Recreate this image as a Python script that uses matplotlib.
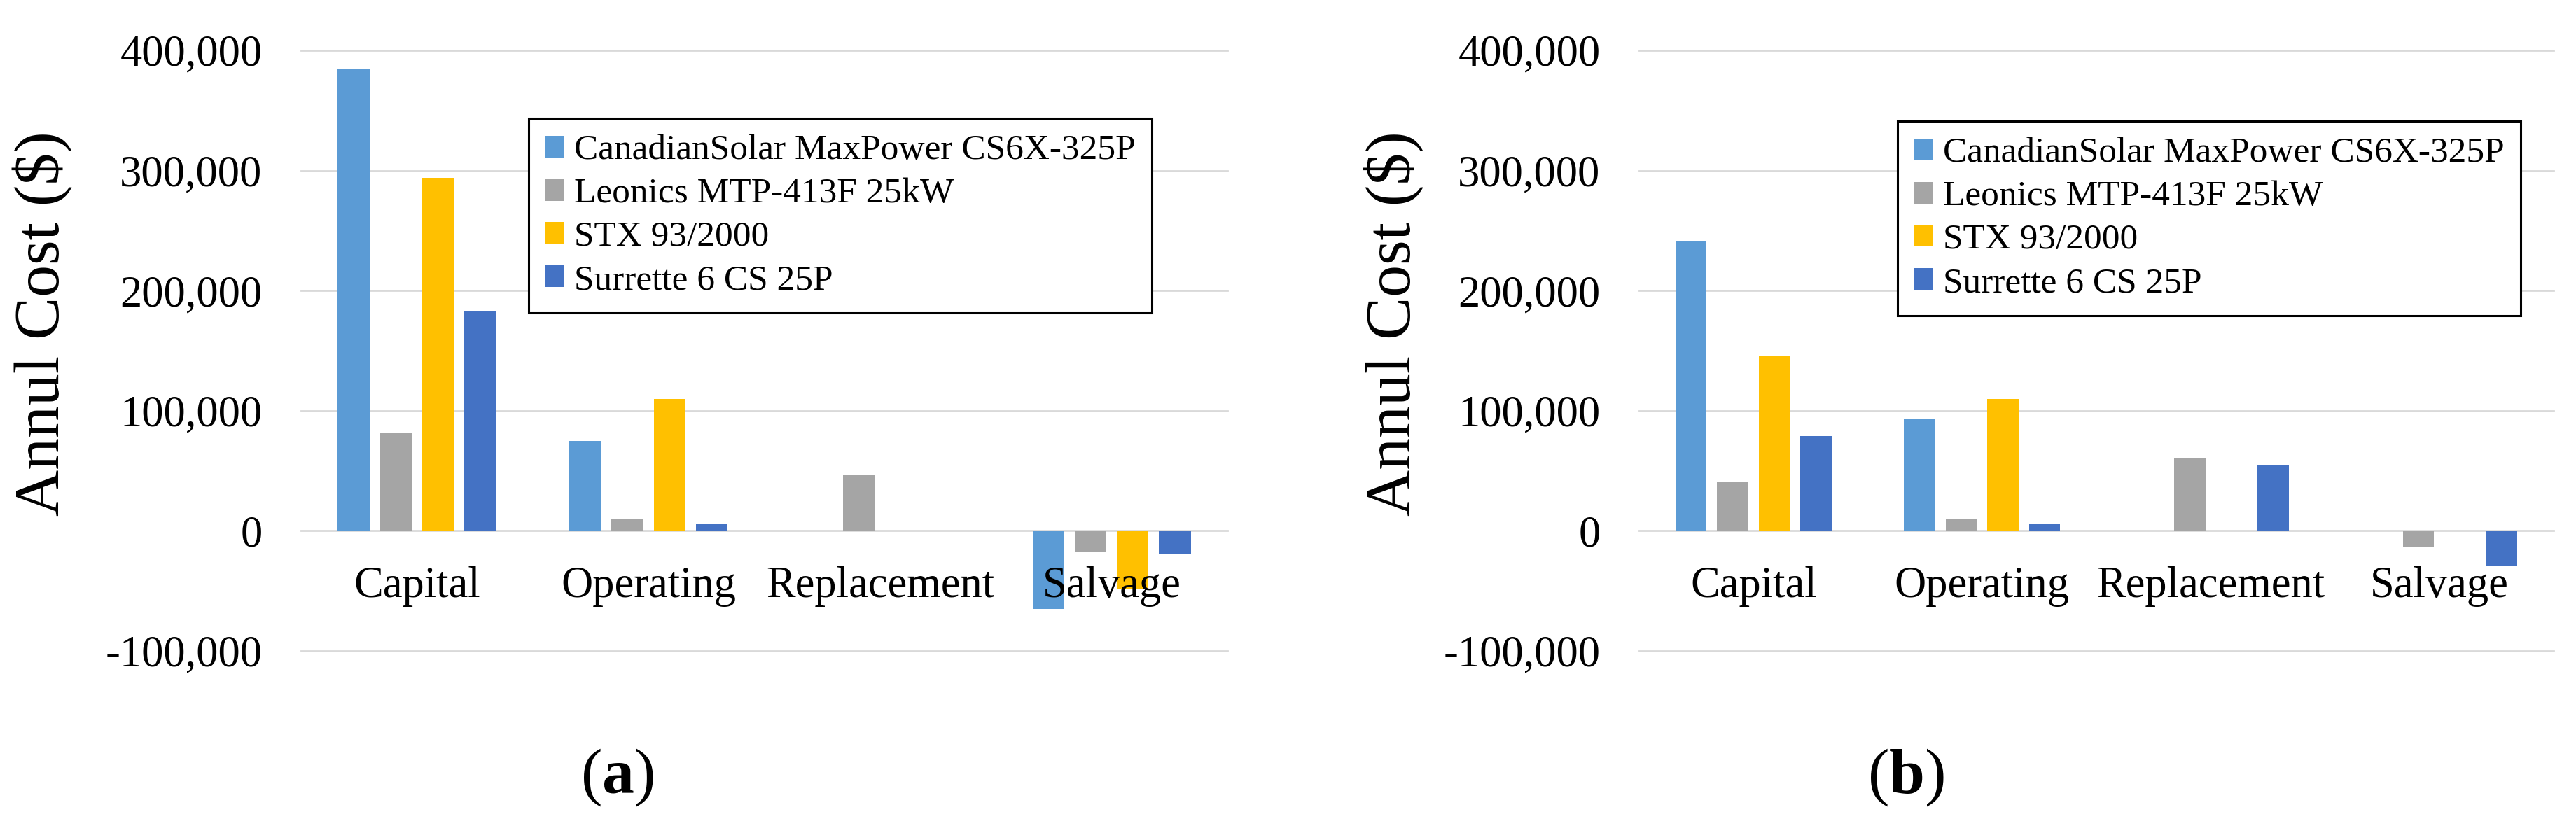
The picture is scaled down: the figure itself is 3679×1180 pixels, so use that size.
import matplotlib
matplotlib.use("Agg")
import matplotlib.pyplot as plt
from matplotlib.ticker import FuncFormatter, FixedLocator
from matplotlib.patches import Patch
import numpy as np

plt.rcParams['font.family'] = ['Liberation Serif', 'DejaVu Serif']
plt.rcParams['mathtext.fontset'] = 'custom'
plt.rcParams['mathtext.rm'] = 'Liberation Serif'
plt.rcParams['mathtext.bf'] = 'Liberation Serif:bold'

# ---- data ----
categories = ["Capital", "Operating", "Replacement", "Salvage"]
series_names = ["CanadianSolar MaxPower CS6X-325P", "Leonics MTP-413F 25kW",
                "STX 93/2000", "Surrette 6 CS 25P"]
colors = ["#5B9BD5", "#A5A5A5", "#FFC000", "#4472C4"]

a_canadian = [384000, 75000, 0, -65000]
a_leonics = [81000, 10000, 46000, -18000]
a_stx = [294000, 110000, 0, -49000]
a_surrette = [183000, 6000, 0, -19000]

b_canadian = [241000, 93000, 0, 0]
b_leonics = [41000, 9500, 60000, -14000]
b_stx = [146000, 110000, 0, 0]
b_surrette = [79000, 5700, 55000, -29000]

yticks = [-100000, 0, 100000, 200000, 300000, 400000]
panel_labels = ["a", "b"]

W, H = 3680, 1180
fig = plt.figure(figsize=(W / 100, H / 100), dpi=100)

ax_top, ax_bot = 72, 930
axA = fig.add_axes([430 / W, 1 - ax_bot / H, 1323 / W, (ax_bot - ax_top) / H])
axB = fig.add_axes([2341 / W, 1 - ax_bot / H, 1306 / W, (ax_bot - ax_top) / H])

fmt = FuncFormatter(lambda v, p: f"{int(v):,}")
pitch = 0.182
bw = 0.137


def draw(ax, data, legend_xy, ylabel_x, label_x, plabel):
    x = np.arange(len(categories))
    for j, (vals, c, name) in enumerate(zip(data, colors, series_names)):
        ax.bar(x + (j - 1.5) * pitch, vals, width=bw, color=c, label=name,
               zorder=2)
    ax.set_xlim(-0.5, 3.5)
    ax.set_ylim(-100000, 400000)
    ax.yaxis.set_major_locator(FixedLocator(yticks))
    ax.yaxis.set_major_formatter(fmt)
    ax.set_xticks([])
    ax.grid(axis='y', color='#D9D9D9', linewidth=2.0, zorder=0)
    ax.set_axisbelow(True)
    for gl in ax.get_ygridlines():
        gl.set_clip_on(False)
    for s in ax.spines.values():
        s.set_visible(False)
    ax.tick_params(axis='y', length=0, pad=40, labelsize=45, colors='black')
    for i, cat in enumerate(categories):
        ax.text(i, -55000, cat, ha='center', va='baseline', fontsize=45,
                zorder=5)
    handles = [Patch(facecolor=c, edgecolor='none') for c in colors]
    leg = ax.legend(handles, series_names, loc='upper left',
                    bbox_to_anchor=(legend_xy[0] / W, 1 - legend_xy[1] / H),
                    bbox_transform=fig.transFigure, fontsize=37,
                    frameon=True, fancybox=False, edgecolor='black',
                    framealpha=1, borderpad=0.45, handlelength=0.55,
                    handleheight=0.55, handletextpad=0.28, labelspacing=0.3)
    leg.get_frame().set_linewidth(2.2)
    fig.text(ylabel_x / W, 1 - 462 / H, "Annul Cost ($)", rotation=90,
             ha='center', va='center', fontsize=66)
    fig.text(label_x / W, 1 - 1111 / H, r"($\mathbf{" + plabel + r"}$)",
             ha='center', va='center', fontsize=66)


draw(axA, [a_canadian, a_leonics, a_stx, a_surrette], (729, 143), 60, 881,
     panel_labels[0])
draw(axB, [b_canadian, b_leonics, b_stx, b_surrette], (2684, 147), 1990, 2722,
     panel_labels[1])

fig.savefig("out.png", dpi=100, facecolor='white')
